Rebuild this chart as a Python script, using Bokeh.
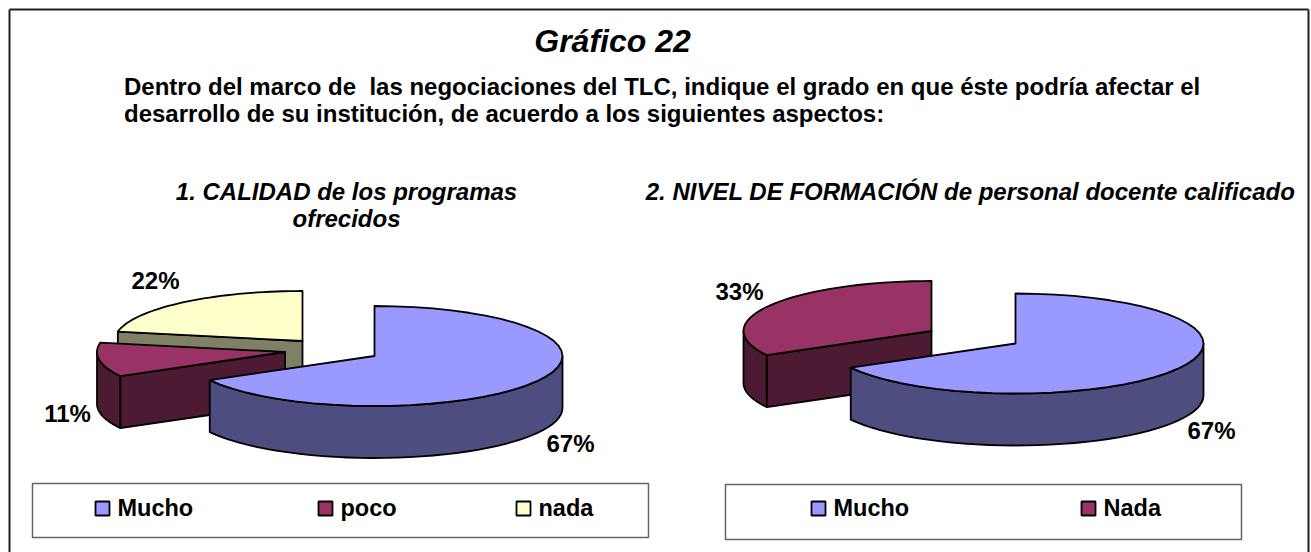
import math
from bokeh.embed import file_html
from bokeh.resources import INLINE
from bokeh.plotting import figure
from bokeh.models import Range1d
from bokeh.core.properties import value

# ---- data ----
title = "Gráfico 22"
subtitle_lines = [
    "Dentro del marco de\u00a0 las negociaciones del TLC, indique el grado en que éste podría afectar el",
    "desarrollo de su institución, de acuerdo a los siguientes aspectos:",
]
chart1_title = ["1. CALIDAD de los programas", "ofrecidos"]
chart2_title = ["2. NIVEL DE FORMACIÓN de personal docente calificado"]
chart1_categories = ["Mucho", "poco", "nada"]
chart1_values = [67, 11, 22]
chart2_categories = ["Mucho", "Nada"]
chart2_values = [67, 33]

COL_TOP = {"Mucho": "#9999FF", "poco": "#993366", "nada": "#FFFFCC", "Nada": "#993366"}
COL_SIDE = {"Mucho": "#4D4D80", "poco": "#4D1A33", "nada": "#808066", "Nada": "#4D1A33"}

FONT = value("Liberation Sans")
W, H = 1311, 552
p = figure(width=W, height=H, x_range=Range1d(0, W), y_range=Range1d(H, 0),
           output_backend="svg", toolbar_location=None, min_border=0,
           background_fill_color="white", border_fill_color="white", outline_line_color=None)
p.axis.visible = False
p.grid.visible = False


def rim(cx, cy, rx, ry, a0, a1, n=40):
    pts = []
    for i in range(n + 1):
        t = math.radians(a0 + (a1 - a0) * i / n)
        pts.append((cx + rx * math.sin(t), cy - ry * math.cos(t)))
    return pts


def poly(pts, fill):
    p.patch([q[0] for q in pts], [q[1] for q in pts], fill_color=fill,
            line_color="black", line_width=1.8, line_join="round")


def wedge3d(cat, a0, a1, centre, rx, ry, depth):
    cx, cy = centre
    if 180 < a0 < 360:
        r = rim(cx, cy, rx, ry, a0, a0, 1)[0]
        poly([r, (cx, cy), (cx, cy + depth), (r[0], r[1] + depth)], COL_SIDE[cat])
    lo, hi = max(a0, 90), min(a1, 270)
    if lo < hi:
        arc = rim(cx, cy, rx, ry, lo, hi)
        poly(arc + [(q[0], q[1] + depth) for q in reversed(arc)], COL_SIDE[cat])
    poly([(cx, cy)] + rim(cx, cy, rx, ry, a0, a1), COL_TOP[cat])


def pie(cats, vals, centres, rx, ry, depth):
    total = sum(vals)
    start = []
    acc = 0
    for v in vals:
        start.append(acc * 360 / total)
        acc += v
    for i in reversed(range(len(vals))):
        a0 = start[i]
        a1 = a0 + vals[i] * 360 / total
        wedge3d(cats[i], a0, a1, centres[i], rx, ry, depth)


# frame
p.line([9, 9], [552, 9], line_color="#222222", line_width=2)
p.line([9, 1308], [9, 9], line_color="#222222", line_width=2)
p.line([1308, 1308], [9, 552], line_color="#222222", line_width=2)

pie(chart1_categories, chart1_values, [(374, 355.5), (284.5, 351.5), (302, 340.5)], 188, 50, 52)
pie(chart2_categories, chart2_values, [(1015, 343), (931, 330.5)], 188, 50, 52)


def txt(xs, ys, ts, size, style="bold", align="left"):
    p.text(xs, ys, text=ts, text_font=FONT, text_font_size=f"{size}px",
           text_font_style=style, text_align=align, text_baseline="middle", text_color="black")


txt([612], [40], [title], 32, "bold italic", "center")
txt([123.5, 123.5], [86, 113], subtitle_lines, 24)
txt([346, 346], [191, 218], chart1_title, 24, "bold italic", "center")
txt([970], [191], chart2_title, 24, "bold italic", "center")

pct1 = [f"{v}%" for v in chart1_values]
pct2 = [f"{v}%" for v in chart2_values]
txt([570, 67, 155], [443, 413, 280], pct1, 24, "bold", "center")
txt([1211, 739], [430, 291], pct2, 24, "bold", "center")

for x0, x1, y0, y1 in [(32, 648, 483, 537), (725, 1241, 484, 539)]:
    p.quad(left=[x0], right=[x1], bottom=[y1], top=[y0], fill_color="white",
           line_color="#666666", line_width=1.5)
for cats, sw_x, tx_x in [(chart1_categories, [95, 318, 516], [117, 340, 538]),
                         (chart2_categories, [811, 1081], [833, 1103])]:
    for c, sx, tx in zip(cats, sw_x, tx_x):
        p.quad(left=[sx], right=[sx + 14], top=[501], bottom=[515], fill_color=COL_TOP[c],
               line_color="black", line_width=1.8)
        txt([tx], [507], [c], 23.5)

open("out.html", "w").write(file_html(p, INLINE))
